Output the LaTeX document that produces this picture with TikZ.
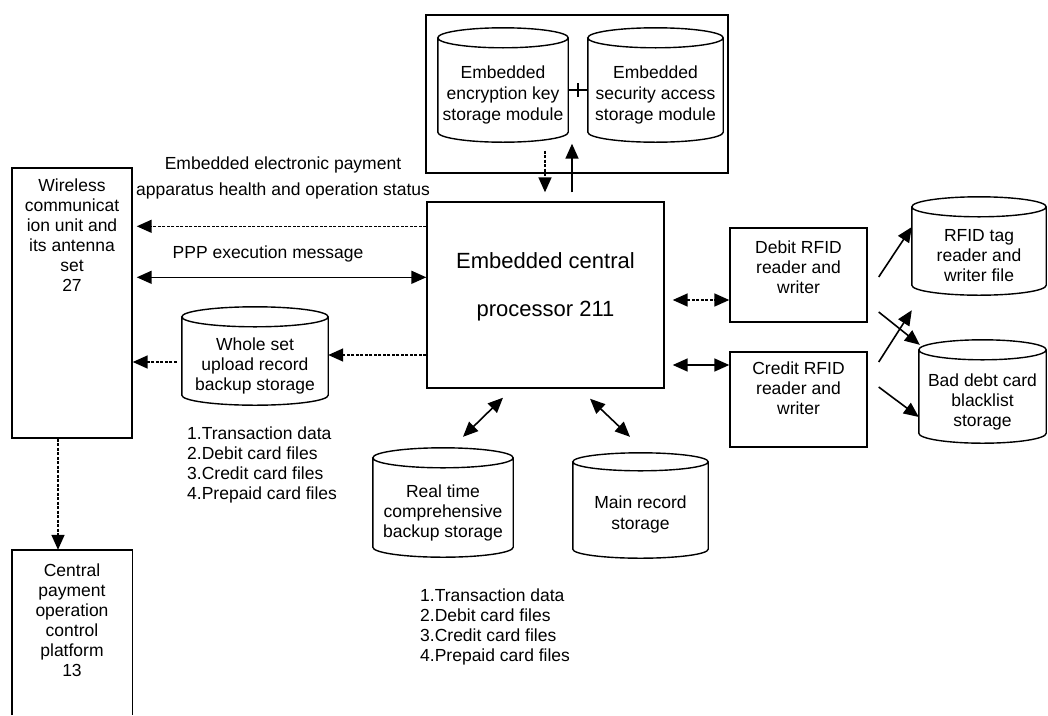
\documentclass[tikz,border=0pt]{standalone}
\usepackage{fontspec}
\setmainfont{Liberation Sans}
\usetikzlibrary{arrows.meta,calc}

% Outline of a storage drum around a body node: the top ellipse sits above
% the node's north edge, the bottom arc dips to its south edge.
\newcommand\drumoutline[2][10]{%
  \draw[line width=1.4pt] let \p1=(#2.north west), \p2=(#2.south east),
      \n1={(\x2-\x1)/2} in
    (\x1,{\y1+#1pt}) -- (\x1,{\y2+#1pt})
    arc[start angle=180,end angle=360,x radius=\n1,y radius=#1pt]
    -- (\x2,{\y1+#1pt})
    arc[start angle=0,end angle=180,x radius=\n1,y radius=#1pt]
    arc[start angle=180,end angle=360,x radius=\n1,y radius=#1pt];}

\tikzset{
  every node/.style={font=\fontsize{17.5}{20}\selectfont},
  box/.style={draw, line width=1.4pt, rectangle, inner sep=0pt},
  drumbody/.style={rectangle, inner sep=0pt, align=center},
  txt/.style={inner sep=0pt, align=center},
  arr/.style={line width=1.6pt, -{Triangle[length=15pt,width=13pt]}},
  darr/.style={line width=1.6pt, {Triangle[length=15pt,width=13pt]}-{Triangle[length=15pt,width=13pt]}},
  fine dash/.style={dash pattern=on 3pt off 1.5pt},
}

\begin{document}
\begin{tikzpicture}[x=1pt,y=1pt]
\useasboundingbox[fill=white] (0,0) rectangle (1048,-715);

% ---- security module enclosure with its two drums
\node[box, minimum width=302pt, minimum height=158pt] (sec) at (577,-94) {};
\node[drumbody, minimum width=130pt, minimum height=94pt,
      font=\fontsize{17.5}{21}\selectfont] (enc) at (503,-95)
  {Embedded\\encryption key\\storage module};
\drumoutline{enc}
\node[drumbody, minimum width=135pt, minimum height=94pt,
      font=\fontsize{17.5}{21}\selectfont] (acc) at (655.5,-95)
  {Embedded\\security access\\storage module};
\drumoutline{acc}
\draw[line width=1.1pt] ($(enc.east)+(0,5)$) -- ($(acc.west)+(0,5)$);
\draw[line width=1.1pt] ($(enc.east)!0.5!(acc.west)+(0,12)$) -- ($(enc.east)!0.5!(acc.west)+(0,-2)$);

% ---- central processor
\node[box, minimum width=237pt, minimum height=186pt,
      label={[txt, font=\fontsize{22}{48}\selectfont, yshift=8pt]center:{Embedded central\\processor 211}}]
  (cpu) at (545.5,-295) {};

% ---- wireless unit and central platform
\node[box, minimum width=120pt, minimum height=270pt,
      label={[txt, yshift=68pt]center:{Wireless\\communicat\\ion unit and\\its antenna\\set\\27}}]
  (wl) at (72,-303) {};
\node[rectangle, inner sep=0pt, minimum width=120pt, minimum height=165pt,
      label={[txt, yshift=12.5pt]center:{Central\\payment\\operation\\control\\platform\\13}}]
  (cp) at (72,-632.5) {};
\draw[line width=1.4pt] (cp.south west) -- (cp.north west) -- (cp.north east) -- (cp.south east);

% ---- upload backup drum and record drums
\node[drumbody, minimum width=146pt, minimum height=78pt] (ws) at (255,-366)
  {Whole set\\upload record\\backup storage};
\drumoutline{ws}
\node[drumbody, minimum width=140pt, minimum height=89pt] (rt) at (443,-512.5)
  {Real time\\comprehensive\\backup storage};
\drumoutline{rt}
\node[drumbody, minimum width=135pt, minimum height=87pt,
      font=\fontsize{17.5}{21}\selectfont] (mr) at (640.5,-514.5)
  {Main record\\storage};
\drumoutline[9]{mr}

% ---- RFID readers and their files
\node[box, minimum width=137pt, minimum height=94pt,
      label={[txt, yshift=8pt]center:{Debit RFID\\reader and\\writer}}]
  (db) at (798.5,-275) {};
\node[box, minimum width=137pt, minimum height=95pt,
      label={[txt, yshift=11.5pt]center:{Credit RFID\\reader and\\writer}}]
  (cr) at (798.5,-399.5) {};
\node[drumbody, minimum width=134pt, minimum height=78pt] (tag) at (979,-256)
  {RFID tag\\reader and\\writer file};
\drumoutline{tag}
\node[drumbody, minimum width=127pt, minimum height=83pt] (bad) at (982.5,-401.5)
  {Bad debt card\\blacklist\\storage};
\drumoutline{bad}

% ---- captions and file lists
\node[txt, font=\fontsize{17.5}{26}\selectfont] (hdr) at (283,-177.5)
  {Embedded electronic payment\\apparatus health and operation status};
\node[txt] (ppp) at (268,-254) {PPP execution message};
\node[txt, align=left, anchor=north west] (lsta) at (187,-427)
  {1.Transaction data\\2.Debit card files\\3.Credit card files\\4.Prepaid card files};
\node[txt, align=left, anchor=north west] (lstb) at (420,-589)
  {1.Transaction data\\2.Debit card files\\3.Credit card files\\4.Prepaid card files};

% ---- connectors
\draw[arr, fine dash, shorten >=9pt] ($(sec.south)+(-32,23)$) -- ($(cpu.north)+(-0.5,0)$);
\draw[arr, shorten <=9pt] ($(cpu.north)+(26.5,0)$) -- ($(sec.south)+(-5,30)$);

\draw[arr, fine dash, shorten >=4pt] ($(cpu.north west)+(0,-25)$) -- ($(wl.north east)+(0,-59)$);
\draw[darr, shorten <=4pt] ($(wl.north east)+(0,-110)$) -- ($(cpu.north west)+(0,-76)$);
\draw[arr, fine dash] ($(cpu.west)+(0,-60)$) -- ($(ws.east)+(0,11)$);
\draw[arr, fine dash] ($(ws.west)+(-5,4)$) -- ($(wl.east)+(0,-59)$);
\draw[arr, fine dash] ($(wl.south)+(-14,0)$) -- ($(cp.north)+(-14,0)$);

\draw[darr, fine dash, shorten <=8pt] ($(cpu.east)+(0,-5)$) -- ($(db.west)+(0,-25)$);
\draw[darr, shorten <=8pt] ($(cpu.east)+(0,-70)$) -- ($(cr.west)+(0,34.5)$);

\draw[darr] ($(cpu.south)+(-42.5,-9)$) -- ($(rt.north)+(20,31)$);
\draw[darr] ($(cpu.south)+(44.5,-10)$) -- ($(mr.north)+(-10.5,34)$);

\draw[arr] ($(db.east)+(11,-2)$) -- ($(tag.west)+(0,29)$);
\draw[arr] ($(db.east)+(11,-37)$) -- ($(bad.north west)+(1,15)$);
\draw[arr] ($(cr.east)+(11,37.5)$) -- ($(tag.south west)+(0,-15)$);
\draw[arr] ($(cr.east)+(11,12.5)$) -- ($(bad.west)+(0,-15.5)$);
\end{tikzpicture}
\end{document}
